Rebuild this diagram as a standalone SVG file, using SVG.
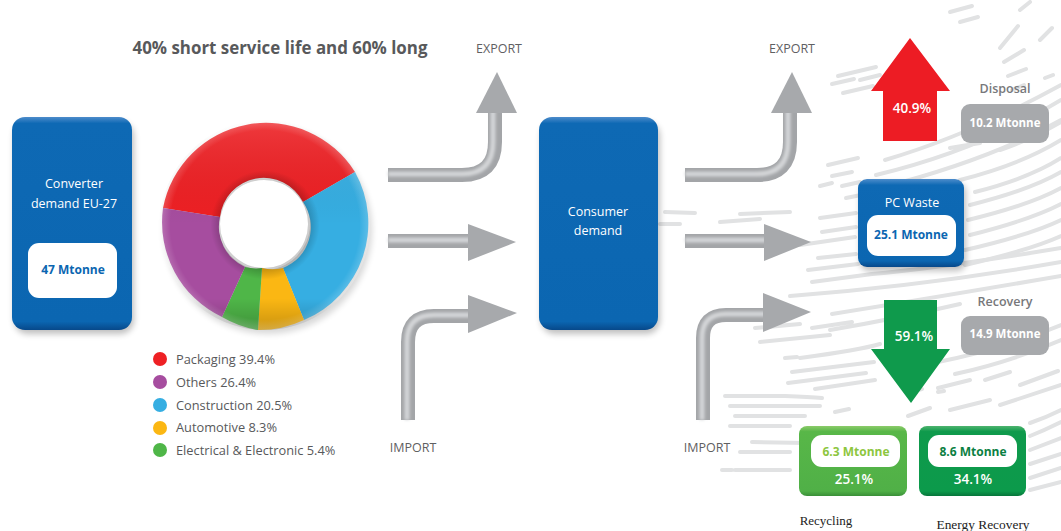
<svg xmlns="http://www.w3.org/2000/svg" width="1061" height="531" viewBox="0 0 1061 531">
<style>
text{font-family:"Open Sans","Liberation Sans",sans-serif}
.lab{font-size:12.5px;fill:#5f6062;text-anchor:middle}
.leg{font-size:12.8px;fill:#58595b}
.wht{font-size:12.5px;fill:#fff;text-anchor:middle}
.pct{font-size:13.5px;font-weight:600;fill:#fff;text-anchor:middle}
.val{font-size:12px;font-weight:700;text-anchor:middle}
.st{fill:none;stroke:#e1e2e3;stroke-width:4;stroke-linecap:round}
.shaft{fill:none;stroke:#a3a5a8;stroke-width:14}
.hi{fill:none;stroke:#d4d6d8;stroke-width:5;filter:url(#soft)}
.head{fill:#a7a9ac}
.ser{font-family:"Liberation Serif",serif;fill:#222;text-anchor:middle}
</style>
<defs>
<filter id="sh" x="-20%" y="-20%" width="140%" height="140%"><feGaussianBlur stdDeviation="3"/></filter>
<filter id="soft" filterUnits="userSpaceOnUse" x="0" y="0" width="1061" height="531"><feGaussianBlur stdDeviation="1.6"/></filter>
<linearGradient id="blue" x1="0" y1="0" x2="0" y2="1"><stop offset="0" stop-color="#4d8ccb"/><stop offset=".03" stop-color="#0e69b4"/><stop offset=".96" stop-color="#0b66b1"/><stop offset="1" stop-color="#07488a"/></linearGradient>
<linearGradient id="blue2" x1="0" y1="0" x2="0" y2="1"><stop offset="0" stop-color="#4d8ccb"/><stop offset=".07" stop-color="#0e69b4"/><stop offset=".93" stop-color="#0b66b1"/><stop offset="1" stop-color="#07488a"/></linearGradient>
<linearGradient id="gl" x1="0" y1="0" x2="0" y2="1"><stop offset="0" stop-color="#8ccb6a"/><stop offset=".08" stop-color="#58b748"/><stop offset=".93" stop-color="#50b047"/><stop offset="1" stop-color="#3a8f38"/></linearGradient>
<linearGradient id="gd" x1="0" y1="0" x2="0" y2="1"><stop offset="0" stop-color="#4fb46f"/><stop offset=".08" stop-color="#0f9a4c"/><stop offset=".93" stop-color="#0c9a4b"/><stop offset="1" stop-color="#07753a"/></linearGradient>
<radialGradient id="rim" gradientUnits="userSpaceOnUse" cx="265" cy="225" r="105"><stop offset=".42" stop-color="#000" stop-opacity=".2"/><stop offset=".52" stop-color="#000" stop-opacity="0"/><stop offset=".9" stop-color="#fff" stop-opacity="0"/><stop offset="1" stop-color="#fff" stop-opacity=".22"/></radialGradient>
<linearGradient id="under" gradientUnits="userSpaceOnUse" x1="265" y1="120" x2="265" y2="330"><stop offset="0" stop-color="#fff" stop-opacity=".12"/><stop offset=".5" stop-color="#000" stop-opacity="0"/><stop offset=".85" stop-color="#000" stop-opacity="0"/><stop offset="1" stop-color="#000" stop-opacity=".2"/></linearGradient>
</defs>
<rect width="1061" height="531" fill="#fff"/>
<g id="map-stripes">
<path class="st" d="M828 165l30-7M832 176l20-4M820 186l12-3M842 186l18-4M846 198l20-4M838 76l38-9M832 84l22-5M860 80l20-5M843 93l30-7M950 12l22-6M960 22l18-5"/>
<path class="st" d="M1000 48l18-22M1004 62l20-12M1008 76l18-7M1012 90l12-5M1040 40l12-12M1045 78l8-3M1020 10l10-8"/>
<path class="st" d="M885 160Q970 135 1061 85M876 175Q980 150 1061 100M880 188Q990 160 1061 120M960 180Q1020 165 1061 140M975 192Q1030 178 1061 158M970 205Q1030 190 1061 172M968 220Q1030 205 1061 188M970 235Q1030 220 1061 204M965 250Q1030 235 1061 220M965 265Q1030 250 1061 236M1000 150Q1030 140 1061 122M950 148l30-5"/>
<path class="st" d="M820 218l36-5M822 232l34-5M800 245l55-8M818 258l38-4M808 270l50-6M740 214l50-2M720 222l40-3M665 212l30 1M660 224l20 0"/>
<path class="st" d="M812 282l60-8Q940 268 1061 248M790 296Q930 285 1061 262M832 314Q920 300 1061 276M830 330Q900 318 960 304M755 328l45-4M812 328l40-6M760 342l70-7M800 358Q860 350 880 344M785 358l12-1M938 362Q1000 350 1061 325M955 374Q1010 362 1061 340M792 372l82-10M788 383l78-10M815 389l60-9M938 388l32-8M985 380l25-8M1020 385l38-14"/>
<path class="st" d="M725 396l60 0Q810 397 822 398M730 406l90 0M735 416l70 0M730 426l60 0M900 368l10 0M835 412l14-3M908 416l22-8M910 392l12-3M938 392l6-1M752 442l55 1M740 452l50 0M735 470l55 0M722 470l10 0"/>
<path class="st" d="M1030 423Q1045 418 1061 410M1030 436Q1045 430 1061 422M1030 450l31-12M1030 464l31-10M1030 478l31-10M1030 490l31-8M950 410l40-10M1000 405l61-20"/>
</g>
<g id="connectors">
<g id="export-1">
<path d="M388 175H462Q495 175 495 142V110" class="shaft"/><path d="M388 174H462Q493 174 493 142V110" class="hi"/>
<polygon class="head" points="497,72 517,113 476,113"/>
</g>
<g id="flow-1">
<path d="M388 241H470" class="shaft"/><path d="M388 240H470" class="hi"/>
<polygon class="head" points="516,242 468,224 468,261"/>
</g>
<g id="import-1">
<path d="M408 420V342Q408 316 434 316H470" class="shaft"/><path d="M407 420V342Q407 315 434 315H470" class="hi"/>
<polygon class="head" points="517,313 468,295 468,333"/>
</g>
<g id="export-2">
<path d="M685 175H757Q790 175 790 142V110" class="shaft"/><path d="M685 174H757Q788 174 788 142V110" class="hi"/>
<polygon class="head" points="792,72 812,113 771,113"/>
</g>
<g id="flow-2">
<path d="M685 241H766" class="shaft"/><path d="M685 240H766" class="hi"/>
<polygon class="head" points="811,242 764,224 764,261"/>
</g>
<g id="import-2">
<path d="M703 420V338Q703 315 726 315H766" class="shaft"/><path d="M702 420V338Q702 314 726 314H766" class="hi"/>
<polygon class="head" points="811,312 763,293 763,332"/>
</g>
</g>
<text x="280" y="54" text-anchor="middle" font-size="16.9" font-weight="700" fill="#58595b">40% short service life and 60% long</text>
<text class="lab" x="499" y="53">EXPORT</text>
<text class="lab" x="792" y="53">EXPORT</text>
<text class="lab" x="413" y="452">IMPORT</text>
<text class="lab" x="707" y="452">IMPORT</text>
<g id="converter-demand">
<rect x="14" y="122" width="120" height="212" rx="14" fill="#000" opacity=".25" filter="url(#sh)"/>
<rect x="12" y="117" width="120" height="213" rx="13" fill="url(#blue)"/>
<rect x="28" y="243" width="89" height="55" rx="11" fill="#fff"/>
<text class="wht" x="74" y="188">Converter</text>
<text class="wht" x="74" y="208">demand EU-27</text>
<text class="val" x="73" y="274" fill="#0b66b1">47 Mtonne</text>
</g>
<g id="donut">
<circle cx="268" cy="230" r="104" fill="#000" opacity=".15" filter="url(#sh)"/>
<circle cx="264" cy="224" r="46" fill="#fff"/>
<path d="M163 208A105 105 0 0 1 355 172L303 202A44 44 0 0 0 220 217Z" fill="#ee2024"/>
<path d="M355 172A105 105 0 0 1 304 320L283 268A44 44 0 0 0 303 202Z" fill="#36aee2"/>
<path d="M304 320A105 105 0 0 1 258 330L262 268A44 44 0 0 0 283 268Z" fill="#fbb713"/>
<path d="M258 330A105 105 0 0 1 222 317L245 267A44 44 0 0 0 262 268Z" fill="#4fb648"/>
<path d="M222 317A105 105 0 0 1 163 208L220 217A44 44 0 0 0 245 267Z" fill="#a64d9f"/>
<path d="M160 225a105 105 0 1 0 210 0a105 105 0 1 0 -210 0ZM220 224a44 44 0 1 1 88 0a44 44 0 1 1 -88 0Z" fill="url(#under)" fill-rule="evenodd"/>
<path d="M160 225a105 105 0 1 0 210 0a105 105 0 1 0 -210 0ZM220 224a44 44 0 1 1 88 0a44 44 0 1 1 -88 0Z" fill="url(#rim)" fill-rule="evenodd"/>
</g>
<g id="legend">
<circle cx="160" cy="359" r="7" fill="#ee2024"/><text class="leg" x="176" y="364">Packaging 39.4%</text>
<circle cx="160" cy="382" r="7" fill="#a64d9f"/><text class="leg" x="176" y="387">Others 26.4%</text>
<circle cx="160" cy="405" r="7" fill="#36aee2"/><text class="leg" x="176" y="410">Construction 20.5%</text>
<circle cx="160" cy="428" r="7" fill="#fbb713"/><text class="leg" x="176" y="432">Automotive 8.3%</text>
<circle cx="160" cy="450" r="7" fill="#4fb648"/><text class="leg" x="176" y="455">Electrical &amp; Electronic 5.4%</text>
</g>
<g id="consumer-demand">
<rect x="541" y="122" width="119" height="212" rx="14" fill="#000" opacity=".25" filter="url(#sh)"/>
<rect x="539" y="117" width="119" height="213" rx="13" fill="url(#blue)"/>
<text class="wht" x="598" y="216">Consumer</text>
<text class="wht" x="598" y="235">demand</text>
</g>
<g id="disposal-arrow">
<polygon points="910,38 950,91 937,91 937,141 883,141 883,91 871,91" fill="#ed1c24"/>
<text class="pct" x="912" y="113">40.9%</text>
</g>
<g id="disposal">
<rect x="961" y="104" width="88" height="39" rx="9" fill="#a7a9ac"/>
<text class="lab" x="1005" y="93" style="font-weight:600;fill:#77787b">Disposal</text>
<text class="val" x="1005" y="127" fill="#fff" style="font-size:11.5px">10.2 Mtonne</text>
</g>
<g id="pc-waste">
<rect x="860" y="183" width="106" height="88" rx="9" fill="#000" opacity=".25" filter="url(#sh)"/>
<rect x="858" y="179" width="106" height="88" rx="9" fill="url(#blue2)"/>
<rect x="867" y="215" width="89" height="41" rx="11" fill="#fff"/>
<text class="wht" x="912" y="207">PC Waste</text>
<text class="val" x="911" y="239" fill="#0b66b1">25.1 Mtonne</text>
</g>
<g id="recovery-arrow">
<polygon points="884,300 937,300 937,349 950,349 911,403 871,349 884,349" fill="#0f9a4c"/>
<text class="pct" x="914" y="341">59.1%</text>
</g>
<g id="recovery">
<rect x="961" y="316" width="88" height="39" rx="9" fill="#a7a9ac"/>
<text class="lab" x="1005" y="306" style="font-weight:600;fill:#77787b">Recovery</text>
<text class="val" x="1005" y="338" fill="#fff" style="font-size:11.5px">14.9 Mtonne</text>
</g>
<g id="recycling">
<rect x="799" y="426" width="108" height="70" rx="8" fill="url(#gl)"/>
<rect x="811" y="435" width="89" height="32" rx="11" fill="#fff"/>
<text class="val" x="856" y="456" fill="#8dc63f">6.3 Mtonne</text>
<text class="pct" x="854" y="484">25.1%</text>
<text class="ser" x="826" y="525" font-size="13">Recycling</text>
</g>
<g id="energy-recovery">
<rect x="919" y="426" width="107" height="70" rx="8" fill="url(#gd)"/>
<rect x="928" y="435" width="89" height="32" rx="11" fill="#fff"/>
<text class="val" x="973" y="456" fill="#0b7f43">8.6 Mtonne</text>
<text class="pct" x="973" y="484">34.1%</text>
<text class="ser" x="983" y="529" font-size="13.4">Energy Recovery</text>
</g>
</svg>
